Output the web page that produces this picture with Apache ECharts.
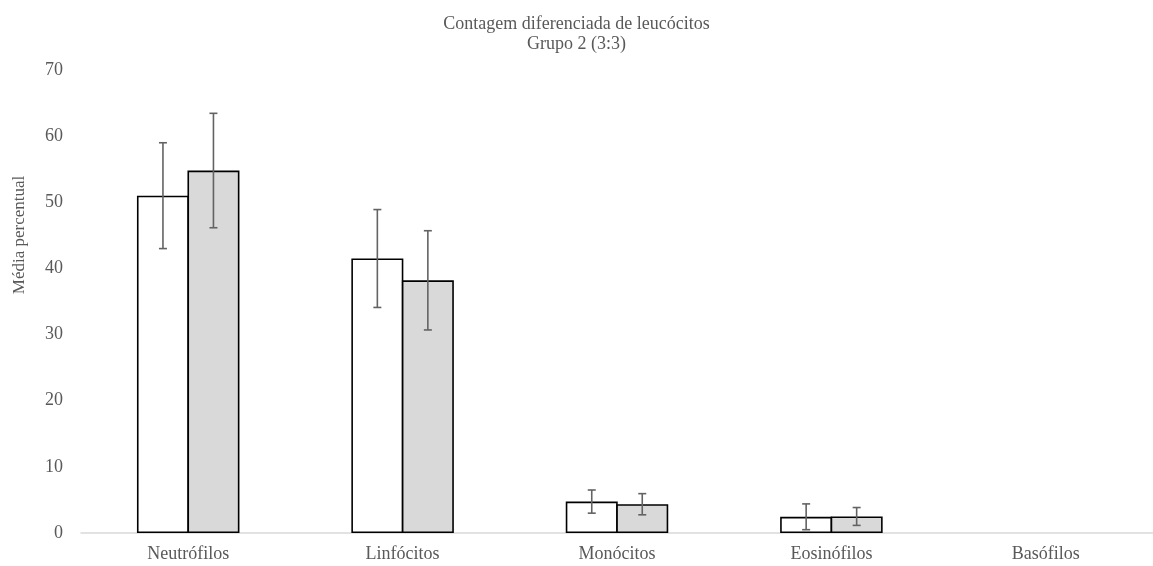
<!DOCTYPE html>
<html>
<head>
<meta charset="utf-8">
<script src="https://cdn.jsdelivr.net/npm/echarts@6/dist/echarts.min.js"></script>
<style>
  html, body { margin: 0; padding: 0; background: #ffffff; }
  #chart { width: 1153px; height: 566px; }
</style>
</head>
<body>
<div id="chart"></div>
<script>
// Leukocyte differential, mean percentage per cell type for the two groups
const categories = ['Neutrófilos', 'Linfócitos', 'Monócitos', 'Eosinófilos', 'Basófilos'];
const meansA = [51.0, 41.5, 4.75, 2.45, 0];
const meansB = [54.8, 38.2, 4.35, 2.5, 0];
const errorsA = [8.0, 7.4, 1.75, 1.95, 0];
const errorsB = [8.65, 7.5, 1.6, 1.35, 0];
const yTicks = [0, 10, 20, 30, 40, 50, 60, 70];

const FONT = '"Liberation Serif", "Times New Roman", serif';
const TEXT = '#595959';
const BAR_W = 52;
const OVERLAP = 1.5; // neighbouring bars share one outline

const chart = echarts.init(document.getElementById('chart'), null, { renderer: 'canvas' });

// Zero-valued bars are left without an outline so nothing is drawn for them
function barData(values) {
  return values.map(v => v === 0 ? { value: v, itemStyle: { borderWidth: 0 } } : v);
}

// Error bars drawn on top of each bar, offset to the centre of that bar
function errorSeries(means, errors, offset) {
  return {
    type: 'custom',
    silent: true,
    z: 5,
    data: means.map((m, i) => [i, m, errors[i]]),
    renderItem: function (params, api) {
      const idx = api.value(0);
      const mean = api.value(1);
      const err = api.value(2);
      if (!err) return null;
      const top = api.coord([idx, mean + err]);
      const bot = api.coord([idx, mean - err]);
      const x = top[0] + offset;
      const cap = 4;
      const style = { stroke: '#636363', lineWidth: 1.6 };
      return {
        type: 'group',
        children: [
          { type: 'line', shape: { x1: x, y1: top[1], x2: x, y2: bot[1] }, style: style },
          { type: 'line', shape: { x1: x - cap, y1: top[1], x2: x + cap, y2: top[1] }, style: style },
          { type: 'line', shape: { x1: x - cap, y1: bot[1], x2: x + cap, y2: bot[1] }, style: style }
        ]
      };
    }
  };
}

const halfStep = (BAR_W - OVERLAP) / 2;

chart.setOption({
  animation: false,
  backgroundColor: '#ffffff',
  title: {
    text: 'Contagem diferenciada de leucócitos\nGrupo 2 (3:3)',
    left: 'center',
    top: 9,
    textStyle: {
      fontFamily: FONT,
      fontSize: 18,
      fontWeight: 'normal',
      color: TEXT,
      lineHeight: 20
    }
  },
  graphic: [{
    type: 'text',
    x: 20,
    y: 235,
    rotation: Math.PI / 2,
    style: {
      text: 'Média percentual',
      fontFamily: FONT,
      fontSize: 17,
      fill: TEXT,
      align: 'center',
      verticalAlign: 'middle'
    }
  }],
  grid: {
    left: 81,
    top: 70,
    width: 1075,
    height: 463,
    containLabel: false
  },
  xAxis: {
    type: 'category',
    data: categories,
    axisLine: { show: true, lineStyle: { color: '#d9d9d9', width: 1.5 } },
    axisTick: { show: false },
    axisLabel: {
      fontFamily: FONT,
      fontSize: 18,
      color: TEXT,
      margin: 12
    },
    splitLine: { show: false }
  },
  yAxis: {
    type: 'value',
    min: yTicks[0],
    max: yTicks[yTicks.length - 1],
    interval: yTicks[1] - yTicks[0],
    axisLine: { show: false },
    axisTick: { show: false },
    splitLine: { show: false },
    axisLabel: {
      fontFamily: FONT,
      fontSize: 18,
      color: TEXT,
      margin: 18
    }
  },
  series: [
    {
      name: 'Série 1',
      type: 'bar',
      data: barData(meansA),
      barWidth: BAR_W,
      barGap: (-OVERLAP / BAR_W * 100).toFixed(2) + '%',
      itemStyle: { color: '#ffffff', borderColor: '#000000', borderWidth: 1.6 }
    },
    {
      name: 'Série 2',
      type: 'bar',
      data: barData(meansB),
      barWidth: BAR_W,
      barGap: (-OVERLAP / BAR_W * 100).toFixed(2) + '%',
      itemStyle: { color: '#d9d9d9', borderColor: '#000000', borderWidth: 1.6 }
    },
    errorSeries(meansA, errorsA, -halfStep),
    errorSeries(meansB, errorsB, halfStep)
  ]
});
</script>
</body>
</html>
